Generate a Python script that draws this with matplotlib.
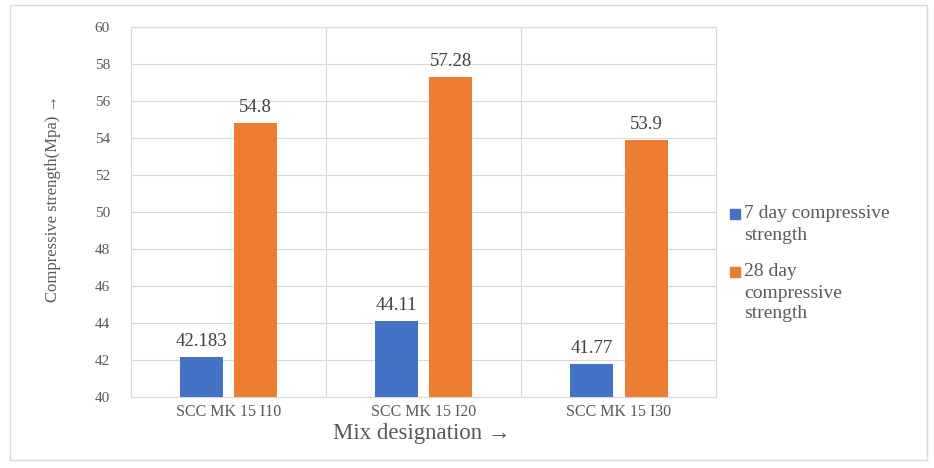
import numpy as np
import matplotlib.pyplot as plt
from matplotlib.patches import Rectangle

plt.rcParams['font.family'] = ['Liberation Serif', 'DejaVu Serif']

# ------------------- данные -------------------
mixes = ['SCC MK 15 I10', 'SCC MK 15 I20', 'SCC MK 15 I30']
day7 = [42.183, 44.11, 41.77]
day28 = [54.8, 57.28, 53.9]
day7_labels = ['42.183', '44.11', '41.77']
day28_labels = ['54.8', '57.28', '53.9']
series_names = ['7 day compressive\nstrength', '28 day\ncompressive\nstrength']

blue = '#4472C4'
orange = '#ED7D31'
txt = '#595959'

fig = plt.figure(figsize=(9.34, 4.68), dpi=100)
ax = fig.add_axes([0.140, 0.152, 0.627, 0.790])

# рамка вокруг всей диаграммы
fig.patches.append(Rectangle((0.011, 0.017), 0.981, 0.972, transform=fig.transFigure,
                             fill=False, edgecolor='#d9d9d9', linewidth=1))

x = np.arange(len(mixes))
w = 0.22
b1 = ax.bar(x - 0.14, np.array(day7) - 40, w, bottom=40, color=blue, zorder=3)
b2 = ax.bar(x + 0.14, np.array(day28) - 40, w, bottom=40, color=orange, zorder=3)

for rects, labels in ((b1, day7_labels), (b2, day28_labels)):
    for r, lab in zip(rects, labels):
        ax.annotate(lab, (r.get_x() + r.get_width() / 2, r.get_y() + r.get_height()),
                    xytext=(0, 5), textcoords='offset points', ha='center', va='bottom',
                    fontsize=13.5, color='#404040')

ax.set_xlim(-0.5, 2.5)
ax.set_ylim(40, 60)
ax.set_yticks(np.arange(40, 61, 2))
ax.set_xticks(x)
ax.set_xticklabels(mixes)
ax.tick_params(length=0, colors=txt)
ax.tick_params(axis='y', pad=15, labelsize=11)
ax.tick_params(axis='x', pad=5, labelsize=11.5)
ax.grid(axis='y', color='#d9d9d9', linewidth=0.8, zorder=0)
for xv in (0.5, 1.5):
    ax.axvline(xv, color='#d9d9d9', linewidth=0.8, zorder=0)
for s in ax.spines.values():
    s.set_color('#d9d9d9')

ax.set_xlabel('Mix designation →', fontsize=16.5, color=txt, va='center')
ax.xaxis.set_label_coords(0.497, -0.100)
ax.set_ylabel('Compressive strength(Mpa) →', fontsize=12, color=txt, va='center')
ax.yaxis.set_label_coords(-0.133, 0.538)

# легенда: квадратик у первой строки подписи, как в Excel
leg_colors = [blue, orange]
leg_y = [214, 272]
line_h = 21
for name, c, yp in zip(series_names, leg_colors, leg_y):
    fig.patches.append(Rectangle((730 / 934, 1 - (yp + 5) / 468), 10 / 934, 10 / 468,
                                 transform=fig.transFigure, color=c))
    for k, line in enumerate(name.split('\n')):
        fig.text(744 / 934, 1 - (yp + k * line_h) / 468, line, fontsize=14,
                 color=txt, va='center', ha='left')

fig.savefig('out.png', dpi=100)
